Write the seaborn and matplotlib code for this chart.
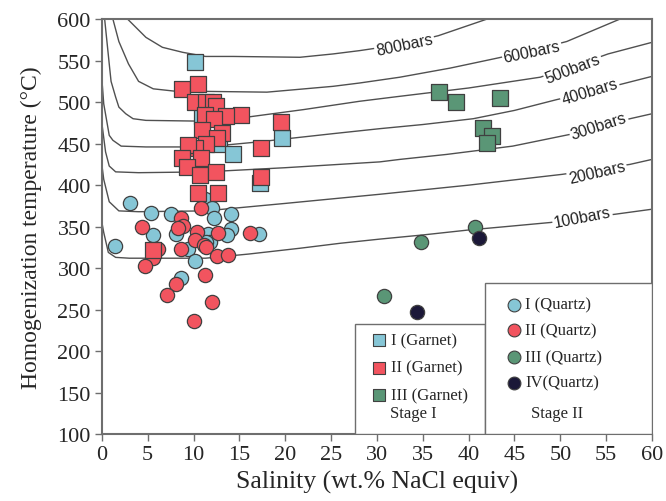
import numpy as np
import pandas as pd
import matplotlib
matplotlib.use("Agg")
import matplotlib.pyplot as plt
import seaborn as sns
from matplotlib.patches import Rectangle

# ---------------- data ----------------
# Stage I garnet (squares)
g1_sal = [10.2, 10.9, 12.8, 14.3, 19.6, 17.2]
g1_T = [548, 483, 449, 437, 457, 402]

g2_sal = [8.7, 10.5, 10.2, 11.4, 12.1, 12.4, 15.2, 13.5, 11.2, 12.2, 19.5, 10.9, 13.1,
          12.6, 11.4, 10.1, 9.4, 17.3, 8.7, 10.8, 9.3, 10.7, 12.4, 17.4, 10.5, 12.7, 5.6]
g2_T = [516, 522, 500, 500, 500, 495, 485, 483, 484, 480, 476, 466, 463,
        457, 449, 445, 448, 445, 433, 433, 422, 412, 416, 410, 391, 391, 322]

g3_sal = [36.8, 38.6, 43.4, 41.6, 42.5, 42.0]
g3_T = [512, 500, 505, 469, 459, 451]

# Stage II quartz (circles)
q1_sal = [3.05, 5.35, 7.5, 11.2, 12.0, 12.2, 14.1, 14.1, 5.6, 8.1, 11.6, 13.6, 17.1,
          1.4, 9.4, 10.1, 8.6, 11.8, 11.4]
q1_T = [379, 366, 365, 383, 373, 361, 365, 347, 340, 341, 341, 340, 341,
        327, 323, 309, 288, 331, 331]

q2_sal = [10.8, 8.6, 8.9, 8.3, 4.4, 10.4, 12.7, 16.1, 10.2, 11.1, 11.3, 6.1, 8.6,
          5.6, 12.5, 13.8, 4.7, 11.2, 8.1, 7.05, 12.0, 10.0]
q2_T = [373, 360, 351, 348, 350, 344, 342, 342, 334, 328, 325, 323, 323,
        312, 315, 316, 303, 292, 281, 268, 259, 236]

q3_sal = [34.8, 40.7, 30.8]
q3_T = [331, 350, 267]

q4_sal = [41.1, 34.4]
q4_T = [336, 247]

# Isobars (bars)
iso_100_x = [0.05, 0.2, 0.7, 1.5, 3, 6.3, 11.3, 16, 21.6, 26, 30.3, 35, 40, 44, 48.9, 52.4, 56, 60]
iso_100_T = [352, 343, 319, 313, 312, 312, 312, 317, 324, 330, 335, 340, 346, 350, 355, 360, 365, 371]
iso_200_x = [0.05, 0.2, 0.8, 1.85, 4, 11.3, 20, 30.3, 40, 50.2, 54, 57.6, 60]
iso_200_T = [420, 407, 380, 369, 368, 369, 378, 389, 400, 413, 419, 425, 431]
iso_300_x = [0.05, 0.4, 0.8, 1.5, 4, 11.3, 20, 30.3, 32.5, 37.6, 44.8, 51, 54.2, 57.6, 60]
iso_300_T = [470, 440, 423, 416, 415, 416, 421, 428, 431, 437, 447, 461, 470, 480, 486]
iso_400_x = [0.05, 0.2, 0.8, 1.2, 2.1, 4.8, 11.3, 17, 25.2, 30.3, 35, 40.5, 45, 49.6, 53.2, 56.8, 60]
iso_400_T = [520, 498, 460, 454, 447, 446, 446, 452, 462, 468, 473, 480, 490, 503, 512, 522, 531]
iso_500_x = [0.3, 0.8, 1.0, 1.5, 1.85, 2.6, 3.4, 4.8, 11.3, 15.9, 22, 28.1, 32.5, 40, 47.8, 51.4, 55.2, 60]
iso_500_T = [600, 546, 525, 506, 494, 486, 480, 478, 477, 482, 491, 501, 507, 517, 530, 543, 558, 572]
iso_600_x = [1.2, 1.85, 2.9, 4.0, 5.6, 8.1, 10.7, 18, 25.2, 28.1, 32.5, 38, 42.7, 46.9, 50.7, 56.5]
iso_600_T = [600, 573, 546, 525, 516, 513, 513, 512, 519, 523, 530, 541, 552, 562, 573, 600]
iso_800_x = [2.8, 4.8, 6.6, 8.8, 11.3, 14.3, 21.6, 25.2, 28.1, 33, 36.7, 42]
iso_800_T = [600, 578, 566, 560, 555, 555, 554, 558, 562, 570, 580, 600]

iso_labels = ["100bars", "200bars", "300bars", "400bars", "500bars", "600bars", "800bars"]
iso_lab_x = [52.4, 54.0, 54.2, 53.2, 51.4, 46.9, 33.0]
iso_lab_T = [361, 416, 471, 513, 540, 561, 569]
iso_lab_rot = [11, 13, 18, 17, 21, 12, 12]

x_ticks = list(range(0, 61, 5))
y_ticks = list(range(100, 601, 50))

# ---------------- style ----------------
sns.set_theme(style="white")
plt.rcParams['font.family'] = ['Liberation Serif', 'DejaVu Serif']

C_BLUE = "#86C6D6"
C_RED = "#F2545F"
C_GREEN = "#5A9676"
C_NAVY = "#1B1838"
EDGE = "#404040"
AX_C = "#6E6E6E"

fig = plt.figure(figsize=(6.66, 5.02), dpi=100)
ax = fig.add_axes([0.153, 0.133, 0.826, 0.827])

# isobars
iso_x = [iso_100_x, iso_200_x, iso_300_x, iso_400_x, iso_500_x, iso_600_x, iso_800_x]
iso_T = [iso_100_T, iso_200_T, iso_300_T, iso_400_T, iso_500_T, iso_600_T, iso_800_T]
for xs, ts in zip(iso_x, iso_T):
    sns.lineplot(x=xs, y=ts, ax=ax, color="#505050", lw=1.0, sort=False, estimator=None)
for lab, lx, lt, rot in zip(iso_labels, iso_lab_x, iso_lab_T, iso_lab_rot):
    ax.text(lx, lt, lab, rotation=rot, ha="center", va="center", fontsize=11.5,
            family="Liberation Sans", color="#222222",
            bbox=dict(facecolor="white", edgecolor="none", pad=1.0), zorder=3)

kw_sq = dict(marker="s", s=120, edgecolor=EDGE, linewidth=0.9, ax=ax, zorder=5, legend=False)
kw_ci = dict(marker="o", s=105, edgecolor=EDGE, linewidth=0.9, ax=ax, zorder=5, legend=False)

sns.scatterplot(x=q1_sal, y=q1_T, color=C_BLUE, **kw_ci)
sns.scatterplot(x=q2_sal, y=q2_T, color=C_RED, **kw_ci)
sns.scatterplot(x=g1_sal, y=g1_T, color=C_BLUE, **kw_sq)
sns.scatterplot(x=g2_sal, y=g2_T, color=C_RED, **kw_sq)
sns.scatterplot(x=g3_sal, y=g3_T, color=C_GREEN, **kw_sq)
sns.scatterplot(x=q3_sal, y=q3_T, color=C_GREEN, **kw_ci)
sns.scatterplot(x=q4_sal, y=q4_T, color=C_NAVY, **kw_ci)

# legend boxes
ax.add_patch(Rectangle((27.57, 100), 41.78 - 27.57, 232.5 - 100, facecolor="white",
                       edgecolor=AX_C, lw=1.0, zorder=6))
ax.add_patch(Rectangle((41.78, 100), 60 - 41.78, 281.6 - 100, facecolor="white",
                       edgecolor=AX_C, lw=1.0, zorder=6))

leg1_labels = ["I (Garnet)", "II (Garnet)", "III (Garnet)"]
leg1_colors = [C_BLUE, C_RED, C_GREEN]
leg1_T = [213, 180, 147]
for lab, c, t in zip(leg1_labels, leg1_colors, leg1_T):
    ax.scatter([30.25], [t], marker="s", s=85, color=c, edgecolor=EDGE, lw=0.8, zorder=7)
    ax.text(31.5, t, lab, ha="left", va="center", fontsize=12, zorder=7)
ax.text(34.0, 125, "Stage I", ha="center", va="center", fontsize=12, zorder=7)

leg2_labels = ["I (Quartz)", "II (Quartz)", "III (Quartz)", "IV(Quartz)"]
leg2_colors = [C_BLUE, C_RED, C_GREEN, C_NAVY]
leg2_T = [256, 225, 193, 162]
for lab, c, t in zip(leg2_labels, leg2_colors, leg2_T):
    ax.scatter([44.95], [t], marker="o", s=85, color=c, edgecolor=EDGE, lw=0.8, zorder=7)
    ax.text(46.2, t, lab, ha="left", va="center", fontsize=12, zorder=7)
ax.text(49.6, 126, "Stage II", ha="center", va="center", fontsize=12, zorder=7)

# axes
ax.set_xlim(0, 60)
ax.set_ylim(100, 600)
ax.set_xticks(x_ticks)
ax.set_yticks(y_ticks)
ax.tick_params(axis="both", direction="out", length=5, width=1.0, color=AX_C,
               labelsize=16, pad=3, bottom=True, left=True)
for sp in ax.spines.values():
    sp.set_visible(True)
    sp.set_color(AX_C)
    sp.set_linewidth(1.5)
ax.set_xlabel("Salinity (wt.% NaCl equiv)", fontsize=18.5, labelpad=4)
ax.set_ylabel("Homogenization temperature (°C)", fontsize=17, labelpad=11)
ax.grid(False)

fig.savefig("out.png", dpi=100)
